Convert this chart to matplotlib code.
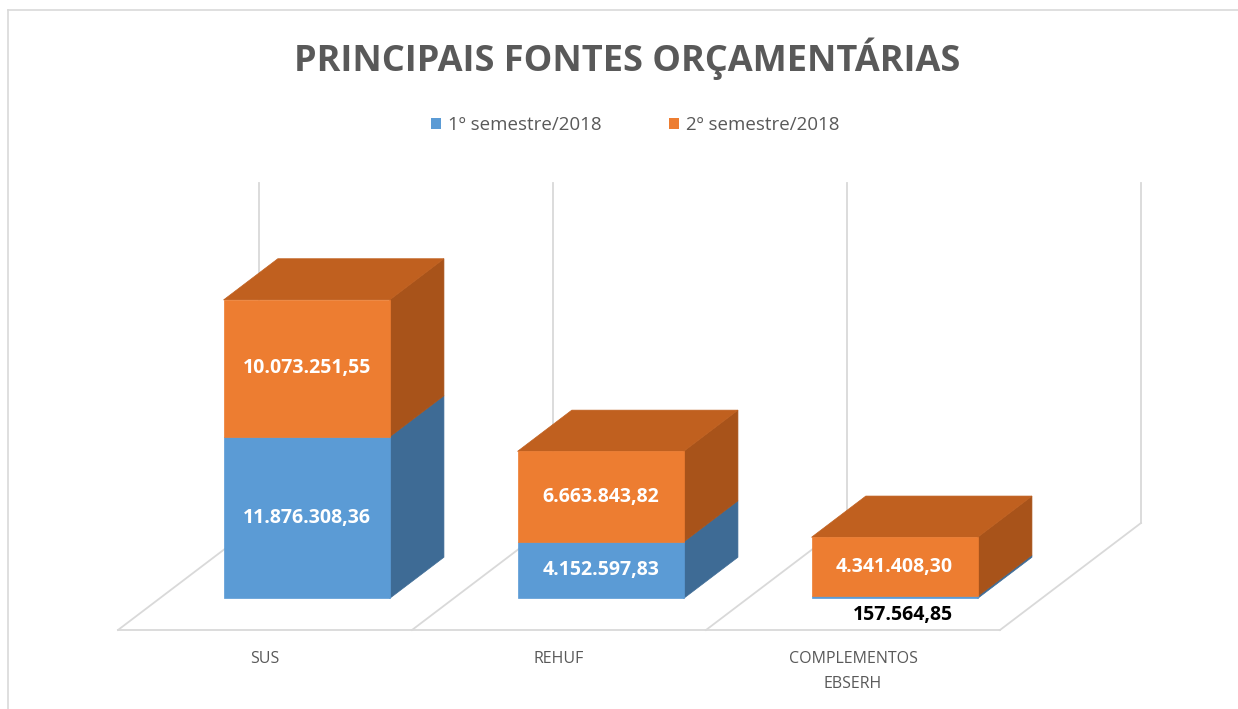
import matplotlib
matplotlib.use("Agg")
import matplotlib.pyplot as plt
from matplotlib.patches import Polygon, Patch
from matplotlib.lines import Line2D

# ---------------- data ----------------
categories = ["SUS", "REHUF", "COMPLEMENTOS\nEBSERH"]
series_names = ["1º semestre/2018", "2º semestre/2018"]
sem1 = [11876308.36, 4152597.83, 157564.85]
sem2 = [10073251.55, 6663843.82, 4341408.30]
title = "PRINCIPAIS FONTES ORÇAMENTÁRIAS"
value_max = 25_000_000

# ---------------- style ----------------
FRONT = ["#5B9BD5", "#ED7D31"]
TOP = ["#4C86BB", "#C0601F"]
SIDE = ["#3E6B95", "#A8531A"]
GRID = "#D9D9D9"
TEXT = "#595959"
FONT = "Open Sans"


def br(v):
    s = f"{v:,.2f}"
    return s.replace(",", "X").replace(".", ",").replace("X", ".")


W, H = 1238, 709
fig = plt.figure(figsize=(W / 100, H / 100), dpi=100)
ax = fig.add_axes([0, 0, 1, 1])

px_cat = 294.0          # pixels per category slot
px_val = 13.6e-6        # pixels per unit value
x0_px, y0_px = 118, 630 # floor front-left corner (image px)
ax.set_xlim(-x0_px / px_cat, (W - x0_px) / px_cat)
ax.set_ylim(-(H - y0_px) / px_val, y0_px / px_val)
ax.axis("off")

DX = 141 / px_cat
DY = 107 / px_val


def P(c, d, v):
    return (c + d * DX, v + d * DY)


n = len(categories)

# floor + walls
fx = [P(0, 0, 0)[0], P(n, 0, 0)[0]]
fy = [P(0, 0, 0)[1], P(n, 0, 0)[1]]
ax.plot(fx, fy, color=GRID, lw=1.3, zorder=1)
for i in range(n + 1):
    a, b = P(i, 0, 0), P(i, 1, 0)
    ax.plot([a[0], b[0]], [a[1], b[1]], color=GRID, lw=1.3, zorder=1)
    c = P(i, 1, value_max)
    ax.plot([b[0], c[0]], [b[1], c[1]], color=GRID, lw=1.3, zorder=1)

# bars
bw, d0, d1 = 0.565, 0.295, 0.68
for i in range(n):
    xl, xr = i + 0.5 - bw / 2, i + 0.5 + bw / 2
    segs = [(0, sem1[i], 0), (sem1[i], sem1[i] + sem2[i], 1)]
    for k, (b, t, s) in enumerate(segs):
        front = [P(xl, d0, b), P(xr, d0, b), P(xr, d0, t), P(xl, d0, t)]
        side = [P(xr, d0, b), P(xr, d1, b), P(xr, d1, t), P(xr, d0, t)]
        ax.add_patch(Polygon(side, closed=True, fc=SIDE[s], ec=SIDE[s], lw=0.5, zorder=3))
        ax.add_patch(Polygon(front, closed=True, fc=FRONT[s], ec=FRONT[s], lw=0.5, zorder=4))
        if k == len(segs) - 1:
            top = [P(xl, d0, t), P(xr, d0, t), P(xr, d1, t), P(xl, d1, t)]
            ax.add_patch(Polygon(top, closed=True, fc=TOP[s], ec=TOP[s], lw=0.5, zorder=3))
        val = sem1[i] if s == 0 else sem2[i]
        if (t - b) * px_val > 22:
            ax.text(*P(i + 0.5, d0, (b + t) / 2), br(val), ha="center", va="center",
                    color="white", fontsize=14, fontweight="bold", family=FONT, zorder=6)
        else:
            ax.annotate(br(val), xy=P(i + 0.5, d0, b), xytext=(6, -5),
                        textcoords="offset points", ha="center", va="top",
                        color="black", fontsize=14, fontweight="bold", family=FONT, zorder=6)

# category labels
for i, cat in enumerate(categories):
    ax.annotate(cat, xy=P(i + 0.5, 0, 0), xytext=(0, -15), textcoords="offset points",
                ha="center", va="top", color=TEXT, fontsize=11.5, family=FONT,
                linespacing=1.75)

# title
fig.text(627 / W, 1 - 59 / H, title, ha="center", va="center", fontsize=26,
         fontweight="bold", color=TEXT, family=FONT)

# legend
handles = [Patch(facecolor=FRONT[0], edgecolor="none"), Patch(facecolor=FRONT[1], edgecolor="none")]
fig.legend(handles=handles, labels=series_names, loc="center",
           bbox_to_anchor=(635 / W, 1 - 125 / H), ncol=2, frameon=False,
           prop={"family": FONT, "size": 13.5}, labelcolor=TEXT,
           handlelength=0.55, handleheight=0.55, handletextpad=0.35, columnspacing=3.6)

# outer frame (left and top)
fig.add_artist(Line2D([8 / W, 8 / W], [0, 1 - 10 / H], transform=fig.transFigure, color=GRID, lw=1.2))
fig.add_artist(Line2D([8 / W, 1], [1 - 10 / H, 1 - 10 / H], transform=fig.transFigure, color=GRID, lw=1.2))

fig.savefig("out.png", dpi=100, facecolor="white")
